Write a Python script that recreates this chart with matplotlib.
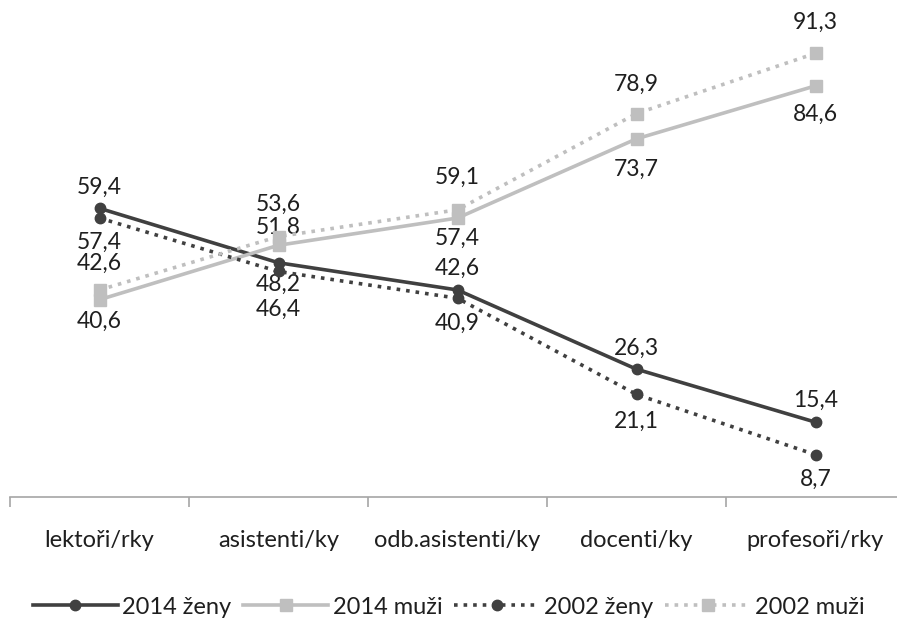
import matplotlib
matplotlib.use("Agg")
import matplotlib.pyplot as plt

categories = ["lektoři/rky", "asistenti/ky", "odb.asistenti/ky", "docenti/ky", "profesoři/rky"]
zeny_2014 = [59.4, 48.2, 42.6, 26.3, 15.4]
muzi_2014 = [40.6, 51.8, 57.4, 73.7, 84.6]
zeny_2002 = [57.4, 46.4, 40.9, 21.1, 8.7]
muzi_2002 = [42.6, 53.6, 59.1, 78.9, 91.3]

# label vertical offsets in pixels (negative = above the point)
off_zeny_2014 = [-21, 22, -22, -21, -22]
off_muzi_2014 = [22, -18, 20, 31, 28]
off_zeny_2002 = [24, 38, 25, 27, 25]
off_muzi_2002 = [-27, -32, -32, -29, -31]

plt.rcParams['font.family'] = ['Lato', 'DejaVu Sans']

W, H = 897, 624
fig = plt.figure(figsize=(W / 100, H / 100), dpi=100)
# x: -0.5..4.5 maps to px 10..905 ; y: 0..100 maps to px 497..11
ax = fig.add_axes([10 / W, (H - 497) / H, 895 / W, (497 - 11) / H])
ax.set_xlim(-0.5, 4.5)
ax.set_ylim(0, 100)

dark = "#404040"
light = "#BFBFBF"
txt = "#1F1F1F"
x = list(range(len(categories)))

series = [
    (zeny_2014, "2014 ženy", dark, "-", "o", off_zeny_2014, 7.5),
    (muzi_2014, "2014 muži", light, "-", "s", off_muzi_2014, 8),
    (zeny_2002, "2002 ženy", dark, ":", "o", off_zeny_2002, 7.5),
    (muzi_2002, "2002 muži", light, ":", "s", off_muzi_2002, 8),
]

handles = []
for vals, name, col, ls, mk, offs, ms in series:
    h, = ax.plot(x, vals, color=col, linestyle=ls, linewidth=2.6, marker=mk,
                 markersize=ms, markerfacecolor=col, markeredgecolor=col,
                 label=name, zorder=3, clip_on=False)
    handles.append(h)
    for xi, v, o in zip(x, vals, offs):
        ax.annotate(f"{v:.1f}".replace(".", ","), (xi, v),
                    xytext=(0, -o * 0.72), textcoords="offset points",
                    ha="center", va="center", fontsize=16.5, color=txt)

for s in ["left", "right", "top"]:
    ax.spines[s].set_visible(False)
ax.spines["bottom"].set_color("#A6A6A6")
ax.spines["bottom"].set_linewidth(1.2)
ax.set_yticks([])
ax.set_xticks([i - 0.5 for i in range(len(categories) + 1)], minor=False)
ax.set_xticklabels([])
ax.tick_params(axis="x", which="major", length=7, color="#A6A6A6", width=1.2)
ax.set_xticks(x, minor=True)
ax.set_xticklabels(categories, minor=True, fontsize=17, color=txt)
ax.tick_params(axis="x", which="minor", length=0, pad=24)

fig.legend(handles=handles, loc="center", bbox_to_anchor=(0.5, (H - 607) / H),
           ncol=4, frameon=False, fontsize=17, handlelength=3.6,
           columnspacing=0.5, handletextpad=0.2, labelcolor=txt)

fig.savefig("out.png", dpi=100)
